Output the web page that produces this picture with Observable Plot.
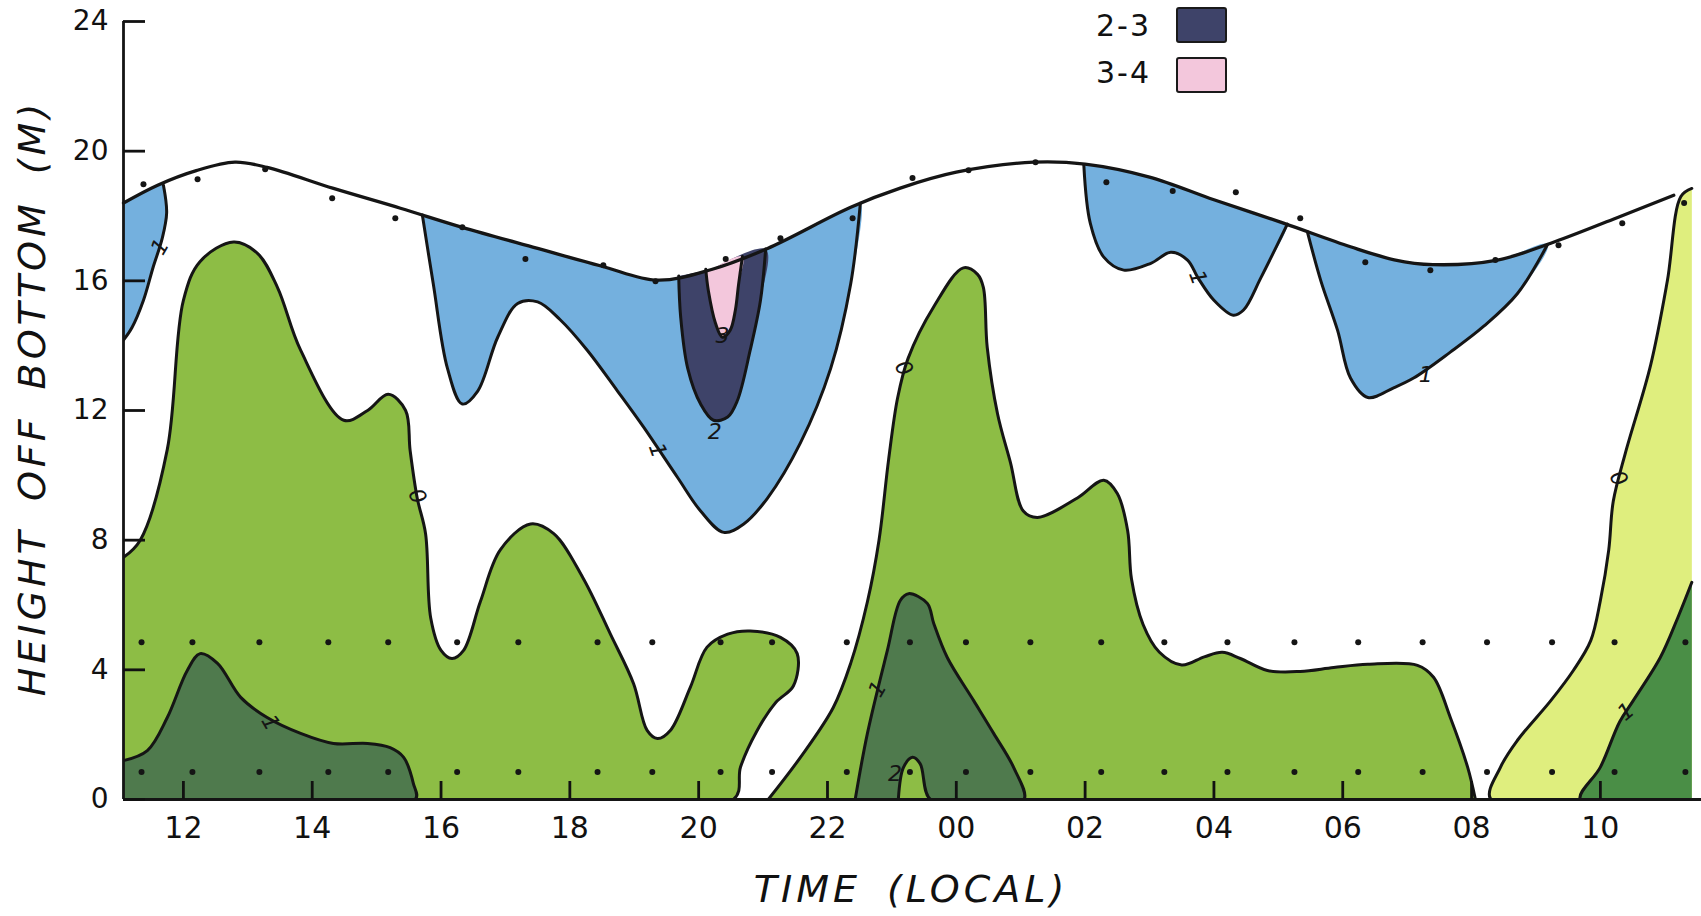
<!DOCTYPE html>
<html><head><meta charset="utf-8">
<script src="https://cdn.jsdelivr.net/npm/d3@7"></script>
<script src="https://cdn.jsdelivr.net/npm/@observablehq/plot@0.6"></script>
<style>
body{margin:0;background:#fff;}
#wrap{position:relative;width:1701px;height:916px;font-family:"DejaVu Sans",sans-serif;color:#111;}
.ytitle{position:absolute;left:32px;top:398px;transform:translate(-50%,-50%) rotate(-90deg);font-style:italic;font-size:38px;letter-spacing:4px;word-spacing:10px;white-space:nowrap;}
.xtitle{position:absolute;left:911px;top:889px;transform:translate(-50%,-50%);font-style:italic;font-size:38px;letter-spacing:4px;word-spacing:10px;white-space:nowrap;}
.lab{position:absolute;font-size:30px;letter-spacing:2px;line-height:1;white-space:nowrap;}
.sw{position:absolute;width:47px;height:32px;border:2.5px solid #1a1a1a;border-radius:3px;}
</style></head>
<body><div id="wrap"></div>
<script>
// ---- axis data ----
const xDomain = [11.07, 35.57];
const yDomain = [0, 24];
const xTicks = [12,14,16,18,20,22,24,26,28,30,32,34];
const xTickLabels = ["12","14","16","18","20","22","00","02","04","06","08","10"];
const yTicks = [0,4,8,12,16,20,24];

// ---- water surface (hour, metres) ----
const surface = [[11.07,18.4],[11.6,18.95],[12.2,19.4],[12.8,19.66],[13.3,19.5],[14.33,18.85],[15.37,18.24],[16.33,17.65],[17.5,17.0],[18.5,16.45],[19.36,16.02],[20.2,16.35],[21.07,17.0],[22.36,18.27],[23.13,18.86],[24.0,19.35],[25.2,19.66],[26.0,19.6],[27.0,19.2],[28.0,18.5],[29.08,17.78],[30.12,17.05],[30.8,16.65],[31.4,16.5],[32.4,16.64],[33.23,17.16],[34.2,17.9],[35.14,18.64]];

// ---- sample points ----
const surfaceDots = [[11.38,18.98],[12.22,19.13],[13.27,19.44],[14.31,18.55],[15.29,17.93],[16.33,17.65],[17.31,16.67],[18.52,16.48],[19.33,15.99],[20.42,16.67],[21.27,17.31],[22.39,17.93],[23.32,19.17],[24.19,19.41],[25.23,19.66],[26.33,19.04],[27.36,18.77],[28.34,18.73],[29.34,17.93],[30.35,16.57],[31.36,16.33],[32.37,16.64],[33.35,17.1],[34.34,17.78],[35.3,18.4]];
const sampleHours = [11.35,12.14,13.18,14.25,15.18,16.25,17.2,18.43,19.28,20.34,21.14,22.3,23.28,24.15,25.15,26.25,27.23,28.21,29.25,30.24,31.24,32.24,33.25,34.22,35.32];
const midDepth = 4.85;
const lowDepth = 0.85;

// ---- contour regions (hour, metres) ----
const green0a = [[11.07,7.47],[11.33,8.0],[11.75,10.8],[12.0,15.4],[12.26,16.6],[12.78,17.2],[13.15,16.85],[13.46,15.8],[13.82,13.86],[14.49,11.7],[14.86,12.0],[15.18,12.5],[15.45,12.0],[15.52,10.77],[15.63,9.3],[15.76,8.2],[15.84,5.6],[16.0,4.6],[16.17,4.35],[16.35,4.6],[16.61,6.1],[16.92,7.7],[17.39,8.5],[17.75,8.2],[18.2,6.85],[18.63,5.1],[18.99,3.57],[19.2,2.13],[19.36,1.88],[19.56,2.13],[19.87,3.46],[20.13,4.7],[20.45,5.1],[20.8,5.2],[21.27,5.0],[21.53,4.5],[21.47,3.5],[21.2,3.0],[20.9,2.1],[20.65,1.0],[20.54,0],[16,0],[11.07,0]];
const green0b = [[21.08,0],[21.58,1.3],[22.09,2.84],[22.36,4.2],[22.62,6.1],[22.8,8.0],[22.95,10.5],[23.09,12.4],[23.25,13.6],[23.65,15.2],[24.11,16.4],[24.33,16.2],[24.42,15.8],[24.48,13.95],[24.64,11.9],[24.84,10.4],[25.04,8.9],[25.26,8.7],[25.88,9.3],[26.29,9.85],[26.5,9.44],[26.66,8.3],[26.72,6.8],[26.9,5.4],[27.15,4.55],[27.5,4.15],[27.85,4.4],[28.13,4.54],[28.41,4.35],[28.83,3.98],[29.34,3.95],[29.86,4.07],[30.39,4.17],[31.16,4.14],[31.41,3.77],[31.67,2.53],[31.94,0.99],[32.06,0]];
const dark1a = [[11.07,1.2],[11.44,1.51],[11.75,2.53],[12.06,3.98],[12.26,4.5],[12.53,4.2],[12.89,3.15],[13.3,2.53],[13.82,2.04],[14.33,1.73],[14.86,1.73],[15.21,1.6],[15.42,1.3],[15.57,0.5],[15.6,0],[11.07,0]];
const dark1b = [[22.43,0],[22.62,2.04],[22.93,4.6],[23.13,6.14],[23.26,6.35],[23.55,6.05],[23.65,5.43],[23.86,4.38],[24.27,3.05],[24.58,2.04],[24.89,0.99],[25.05,0],[24.3,0],[23.6,0],[23.44,1.1],[23.32,1.3],[23.18,0.99],[23.1,0]];
const yellow0c = [[35.42,18.85],[35.25,18.6],[35.04,16.0],[34.78,13.4],[34.39,10.7],[34.2,9.2],[34.13,7.7],[34.0,6.14],[33.85,4.9],[33.58,3.98],[33.23,3.05],[32.71,1.82],[32.45,1.0],[32.3,0],[35.42,0]];
const dark1c = [[35.42,6.7],[35.2,5.6],[34.93,4.38],[34.51,3.05],[34.3,2.4],[34.0,1.0],[33.69,0],[35.42,0]];
const blue1a = [[11.07,14.17],[11.2,14.55],[11.38,15.4],[11.53,16.42],[11.67,17.3],[11.74,18.1],[11.69,18.95]];
const blue1b = [[15.71,18.03],[15.88,15.9],[16.1,13.3],[16.33,12.2],[16.57,12.6],[16.88,14.26],[17.19,15.3],[17.5,15.35],[17.85,14.8],[18.27,13.86],[18.74,12.6],[19.14,11.5],[19.67,9.94],[20.03,8.9],[20.39,8.24],[20.7,8.5],[21.07,9.3],[21.58,11.0],[22.05,13.3],[22.36,15.9],[22.51,18.39]];
const blue1c = [[25.98,19.57],[26.08,17.78],[26.29,16.73],[26.6,16.33],[27.02,16.54],[27.33,16.88],[27.59,16.64],[27.75,16.1],[28.0,15.4],[28.3,14.94],[28.46,15.1],[28.73,16.1],[29.14,17.75]];
const blue1d = [[29.45,17.52],[29.66,16.0],[29.92,14.47],[30.12,13.0],[30.39,12.4],[30.79,12.7],[31.1,13.0],[31.67,13.8],[32.19,14.6],[32.71,15.6],[33.18,17.12]];
const navy2 = [[19.69,16.15],[19.72,14.9],[19.83,13.3],[20.03,12.2],[20.23,11.7],[20.45,11.8],[20.6,12.3],[20.8,13.86],[20.96,15.4],[21.04,16.98]];
const pink3 = [[20.11,16.36],[20.15,15.7],[20.26,14.7],[20.37,14.26],[20.49,14.48],[20.57,15.1],[20.62,15.9],[20.68,16.75]];

// ---- contour labels ----
const contourLabels = [
  {h:11.64,m:17.05,t:"1",r:-60},{h:15.63,m:9.35,t:"0",r:65},{h:13.35,m:2.37,t:"1",r:60},
  {h:19.36,m:10.77,t:"1",r:70},{h:20.25,m:11.35,t:"2",r:0},{h:20.37,m:14.3,t:"3",r:0},
  {h:23.18,m:13.3,t:"0",r:60},{h:22.78,m:3.4,t:"1",r:-60},{h:23.05,m:0.8,t:"2",r:0},
  {h:27.75,m:16.1,t:"1",r:70},{h:31.29,m:13.1,t:"1",r:0},{h:34.28,m:9.9,t:"0",r:60},{h:34.4,m:2.7,t:"1",r:-40}
];

// ---- legend ----
const legendLabels = ["2-3","3-4"];
const colors = {green:"#8dbd45", dark:"#4f7a4d", darkR:"#4a8e46", yellow:"#dfee7e", blue:"#74b0de", navy:"#3e4369", pink:"#f3c7dc"};
const legendColors = [colors.navy, colors.pink];

const X = d => d[0], Y = d => d[1];
const CURVE = "catmull-rom";
const LINE = "#151515";
const SW = 3;
function region(pts, fill) {
  return Plot.line(pts, {x: X, y: Y, fill, stroke: LINE, strokeWidth: SW, curve: CURVE, clip: true});
}
function capped(edge, fill) {
  const a = edge[0][0], b = edge[edge.length - 1][0];
  const top = surface.filter(d => d[0] >= a && d[0] <= b).reverse();
  return [
    Plot.line(edge.concat(top), {x: X, y: Y, fill, stroke: "none", curve: CURVE, clip: true}),
    Plot.line(edge, {x: X, y: Y, stroke: LINE, strokeWidth: SW, curve: CURVE, clip: true})
  ];
}

const chart = Plot.plot({
  width: 1701, height: 916,
  marginLeft: 123, marginRight: 0, marginTop: 21, marginBottom: 117,
  x: {domain: xDomain},
  y: {domain: yDomain},
  style: {fontFamily: "DejaVu Sans, sans-serif", color: "#111", background: "white"},
  marks: [
    region(green0a, colors.green),
    region(green0b, colors.green),
    region(dark1a, colors.dark),
    region(dark1b, colors.dark),
    region(yellow0c, colors.yellow),
    region(dark1c, colors.darkR),
    capped(blue1a, colors.blue),
    capped(blue1b, colors.blue),
    capped(blue1c, colors.blue),
    capped(blue1d, colors.blue),
    capped(navy2, colors.navy),
    capped(pink3, colors.pink),
    Plot.line(surface, {x: X, y: Y, stroke: LINE, strokeWidth: 3.3, curve: CURVE}),
    Plot.dot(surfaceDots, {x: X, y: Y, r: 3, fill: LINE}),
    Plot.dot(sampleHours, {x: d => d, y: midDepth, r: 3, fill: LINE}),
    Plot.dot(sampleHours, {x: d => d, y: lowDepth, r: 3, fill: LINE}),
    Plot.text(contourLabels, {x: "h", y: "m", text: "t", rotate: "r", fontSize: 22, fontStyle: "italic", fill: LINE}),
    Plot.ruleX([xDomain[0]], {y1: yDomain[0], y2: yDomain[1], strokeWidth: 2.8, stroke: LINE}),
    Plot.ruleY([0], {strokeWidth: 2.8, stroke: LINE}),
    Plot.axisY({ticks: yTicks, tickSize: 0, tickPadding: 15, fontSize: 28, label: null}),
    Plot.axisY({ticks: yTicks, tickSize: -22, tickFormat: () => "", label: null, strokeWidth: 2.8}),
    Plot.axisX({ticks: xTicks, tickSize: 0, tickPadding: 17, fontSize: 30, label: null, tickFormat: d => xTickLabels[xTicks.indexOf(d)]}),
    Plot.axisX({ticks: xTicks, tickSize: -18, tickFormat: () => "", label: null, strokeWidth: 2.8})
  ]
});

const wrap = document.getElementById("wrap");
wrap.appendChild(chart);
const yt = document.createElement("div"); yt.className = "ytitle"; yt.textContent = "HEIGHT OFF BOTTOM (M)"; wrap.appendChild(yt);
const xt = document.createElement("div"); xt.className = "xtitle"; xt.textContent = "TIME (LOCAL)"; wrap.appendChild(xt);
legendLabels.forEach((lab, i) => {
  const t = document.createElement("div"); t.className = "lab"; t.textContent = lab;
  t.style.left = "1096px"; t.style.top = (11 + i * 47) + "px"; wrap.appendChild(t);
  const s = document.createElement("div"); s.className = "sw"; s.style.background = legendColors[i];
  s.style.left = "1176px"; s.style.top = (7 + i * 50) + "px"; wrap.appendChild(s);
});
</script></body></html>
